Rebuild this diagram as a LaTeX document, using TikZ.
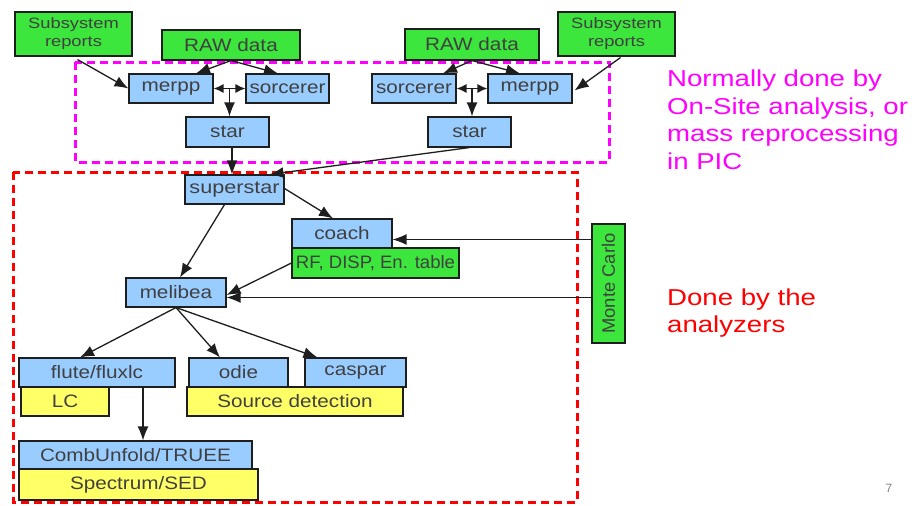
\documentclass[tikz,border=0pt]{standalone}
\usepackage{fontspec}
\setmainfont{Liberation Sans}
\usepackage{graphicx}
\usetikzlibrary{arrows.meta,calc}
\definecolor{bbox}{RGB}{153,204,255}
\definecolor{gbox}{RGB}{60,230,60}
\definecolor{ybox}{RGB}{255,255,102}
\definecolor{txt}{RGB}{64,64,64}
\definecolor{edge}{RGB}{30,30,30}
\definecolor{mag}{RGB}{255,0,255}
\definecolor{rd}{RGB}{255,0,0}
\newcommand\sx[2][1.15]{\scalebox{#1}[1]{#2}}
\tikzset{
  boxbase/.style={draw=edge, line width=1.1pt, inner sep=0pt, text=txt,
    font=\fontsize{18}{19}\selectfont, align=center},
  bluebox/.style={boxbase, fill=bbox},
  greenbox/.style={boxbase, fill=gbox},
  yellowbox/.style={boxbase, fill=ybox},
  wh/.style 2 args={minimum width=#1pt, minimum height=#2pt},
  conn/.style={draw=edge, line width=1.3pt, -{Latex[length=14pt,width=11pt]}},
  dconn/.style={draw=edge, line width=1.3pt, {Latex[length=10pt,width=9pt]}-{Latex[length=10pt,width=9pt]}},
  region/.style={line width=3pt, dash pattern=on 8pt off 5pt},
}
\begin{document}
\begin{tikzpicture}[x=1pt,y=-1pt]
\useasboundingbox[fill=white] (0,0) rectangle (916,506);
% regions
\draw[region, mag] (75,62) rectangle (609,162);
\draw[region, rd] (13,172) rectangle (577,502);
% top left
\node[greenbox, wh={117}{44}, font=\fontsize{15}{18}\selectfont] (subL) at (73.5,34) {\sx[1.22]{Subsystem}\\\sx[1.22]{reports}};
\node[greenbox, wh={138}{30}] (rawL) at (231,45) {\sx{RAW data}};
\node[bluebox, wh={84}{29}] (merppL) at (171,88.5) {\sx{merpp}};
\node[bluebox, wh={83}{29}] (sorcL) at (287.5,88.5) {\sx{sorcerer}};
\node[bluebox, wh={83}{30}] (starL) at (227.5,132) {\sx{star}};
% top right
\node[greenbox, wh={134}{31}] (rawR) at (472,44.5) {\sx{RAW data}};
\node[greenbox, wh={117}{44}, font=\fontsize{15}{18}\selectfont] (subR) at (616.5,34) {\sx[1.22]{Subsystem}\\\sx[1.22]{reports}};
\node[bluebox, wh={84}{29}] (sorcR) at (414,88.5) {\sx{sorcerer}};
\node[bluebox, wh={84}{29}] (merppR) at (530,88.5) {\sx{merpp}};
\node[bluebox, wh={83}{30}] (starR) at (469.5,132) {\sx{star}};
% middle
\node[bluebox, wh={99}{29}] (superstar) at (234.5,189.5) {\sx[1.2]{superstar}};
\node[greenbox, wh={167}{30}] (rf) at (375.5,263) {\sx[1.03]{RF, DISP, En. table}};
\node[bluebox, wh={100}{29}] (coach) at (342,233.5) {\sx{coach}};
\node[greenbox, wh={33}{119}] (mc) at (608.5,283.5) {\rotatebox{90}{\sx[1.02]{Monte Carlo}}};
\node[bluebox, wh={100}{29}] (melibea) at (176,292.5) {\sx{melibea}};
% bottom
\node[bluebox, wh={156}{29}] (flute) at (97,372.5) {\sx{flute/fluxlc}};
\node[yellowbox, wh={88}{29}] (lc) at (65,401.5) {\sx{LC}};
\node[bluebox, wh={99}{29}] (odie) at (238.5,372.5) {\sx{odie}};
\node[bluebox, wh={101}{29}] (caspar) at (355.5,372.5) {\sx{caspar}};
\node[yellowbox, wh={216}{29}] (srcdet) at (295,401.5) {\sx{Source detection}};
\node[bluebox, wh={233}{28}] (comb) at (135.5,455) {\sx{CombUnfold/TRUEE}};
\node[yellowbox, wh={239}{31}] (spec) at (138.5,484.5) {\sx{Spectrum/SED}};
% texts
\node[anchor=north west, inner sep=0pt, text=mag, align=left,
  font=\fontsize{23}{27.8}\selectfont] (note1) at (667,69.5)
  {\sx[1.2]{Normally done by}\\\sx[1.2]{On-Site analysis, or}\\\sx[1.2]{mass reprocessing}\\\sx[1.2]{in PIC}};
\node[anchor=north west, inner sep=0pt, text=rd, align=left,
  font=\fontsize{23}{27}\selectfont] (note2) at (667,288.5)
  {\sx[1.2]{Done by the}\\\sx[1.2]{analyzers}};
\node[text=gray, font=\fontsize{12}{14}\selectfont, inner sep=0pt] (pg) at (889,488) {7};
% connectors top left
\draw[conn] ($(subL.south)+(4,3)$) -- (merppL.west);
\draw[conn] (rawL.south) -- ($(merppL.north)+(25,0)$);
\draw[conn] (rawL.south) -- ($(sorcL.north)+(-9.5,0)$);
\draw[dconn] (merppL.east) -- (sorcL.west);
\coordinate (jL) at ($(merppL.east)!0.5!(sorcL.west)$);
\draw[conn] (jL) -- (jL |- starL.north);
% connectors top right
\draw[conn] (rawR.south) -- ($(sorcR.north)+(29,0)$);
\draw[conn] (rawR.south) -- ($(merppR.north)+(-10,0)$);
\draw[conn] ($(subR.south)+(4,1)$) -- ($(merppR.east)+(2,2)$);
\draw[dconn] (sorcR.east) -- (merppR.west);
\coordinate (jR) at ($(sorcR.east)!0.5!(merppR.west)$);
\draw[conn] (jR) -- (jR |- starR.north);
% to superstar
\coordinate (ssin) at ($(superstar.north)+(-2.5,0)$);
\draw[conn] (ssin |- starL.south) -- (ssin);
\draw[conn] (starR.south) -- ($(superstar.north)+(35,0)$);
% from superstar
\draw[conn] ($(superstar.east)+(0,-1)$) -- ($(coach.north)+(-9,0)$);
\draw[conn] ($(superstar.south)+(-10,0)$) -- ($(melibea.north)+(4,0)$);
\draw[conn] (rf.west) -- ($(melibea.east)+(0,2.5)$);
\coordinate (cin) at ($(coach.east)+(0,6)$);
\draw[conn] (mc.west |- cin) -- (cin);
\coordinate (min) at ($(melibea.east)+(0,5)$);
\draw[conn] (mc.west |- min) -- (min);
% from melibea
\draw[conn] (melibea.south) -- ($(flute.north)+(-17,0)$);
\draw[conn] (melibea.south) -- ($(odie.north)+(-18.5,0)$);
\draw[conn] (melibea.south) -- ($(caspar.north)+(-38,0)$);
% flute to comb
\coordinate (fx) at (143,0);
\draw[conn] (fx |- flute.south) -- (fx |- comb.north);
\end{tikzpicture}
\end{document}
